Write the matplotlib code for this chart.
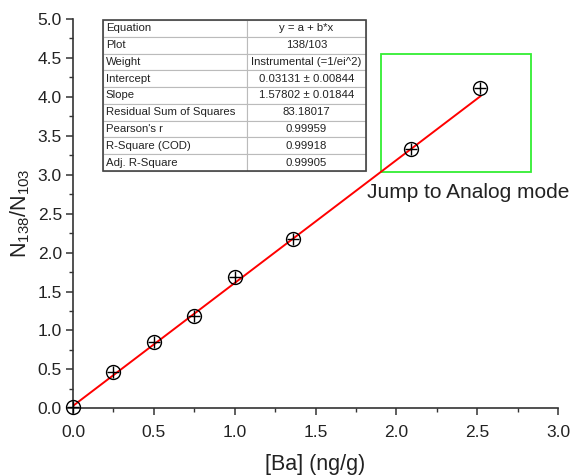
import matplotlib
matplotlib.use("Agg")
import matplotlib.pyplot as plt
import numpy as np
from matplotlib.patches import Rectangle

plt.rcParams['font.family'] = ['Liberation Sans', 'DejaVu Sans']
plt.rcParams['mathtext.fontset'] = 'custom'
plt.rcParams['mathtext.rm'] = 'Liberation Sans'
plt.rcParams['mathtext.it'] = 'Liberation Sans:italic'

# Data
ba = [0.0, 0.25, 0.5, 0.75, 1.0, 1.36, 2.09, 2.52]
ratio = [0.02, 0.47, 0.85, 1.19, 1.68, 2.17, 3.33, 4.11]
intercept = 0.03131
slope = 1.57802

table_labels = ["Equation", "Plot", "Weight", "Intercept", "Slope",
                "Residual Sum of Squares", "Pearson's r", "R-Square (COD)",
                "Adj. R-Square"]
table_values = ["y = a + b*x", "138/103", "Instrumental (=1/ei^2)",
                "0.03131 \u00b1 0.00844", "1.57802 \u00b1 0.01844",
                "83.18017", "0.99959", "0.99918", "0.99905"]

x_ticks = [0.0, 0.5, 1.0, 1.5, 2.0, 2.5, 3.0]
y_ticks = [0.0, 0.5, 1.0, 1.5, 2.0, 2.5, 3.0, 3.5, 4.0, 4.5, 5.0]

W, H = 571, 475
fig = plt.figure(figsize=(W / 100, H / 100), dpi=100)
ax = fig.add_axes([73 / W, 1 - 408.3 / H, (558 - 73) / W, (408.3 - 19) / H])

# fit line
xf = np.array([0.0, max(ba)])
ax.plot(xf, intercept + slope * xf, color='red', lw=1.4, zorder=3)

# markers
ax.plot(ba, ratio, linestyle='none', marker='o', ms=10, mfc='none', mec='black',
        mew=1.0, clip_on=False, zorder=4)
ax.plot(ba, ratio, linestyle='none', marker='+', ms=8.5, mec='black',
        mew=1.0, clip_on=False, zorder=4)

ax.set_xlim(0, 3.0)
ax.set_ylim(0, 5.0)
ax.set_xticks(x_ticks)
ax.set_yticks(y_ticks)
ax.set_xticklabels([f"{v:.1f}" for v in x_ticks])
ax.set_yticklabels([f"{v:.1f}" for v in y_ticks])
ax.set_xticks(np.arange(0.25, 3.0, 0.5), minor=True)
ax.set_yticks(np.arange(0.25, 5.0, 0.5), minor=True)

for s in ['top', 'right']:
    ax.spines[s].set_visible(False)
for s in ['left', 'bottom']:
    ax.spines[s].set_color('#333333')
    ax.spines[s].set_linewidth(1.2)
ax.tick_params(which='major', direction='out', length=5, width=1.1,
               colors='#333333', labelsize=12.5, labelcolor='#222222', pad=3)
ax.tick_params(axis='x', which='major', pad=7)
ax.tick_params(which='minor', direction='out', length=3, width=1.0, colors='#333333')

ax.set_xlabel("[Ba] (ng/g)", fontsize=15.5, color='#222222', labelpad=10)
ax.set_ylabel(r"N$_{\mathregular{138}}$/N$_{\mathregular{103}}$", fontsize=15.5,
              color='#222222', labelpad=4)

# green box
ax.add_patch(Rectangle((1.908, 3.04), 2.835 - 1.908, 4.55 - 3.04, fill=False,
                       edgecolor='#33ee33', lw=1.3, zorder=2))
ax.text(1.82, 2.70, "Jump to Analog mode", fontsize=15, color='#222222',
        ha='left', va='baseline')

# table
tx0 = (103 - 73) / 485
tw = (366 - 103) / 485
ty1 = (408.3 - 20) / 389.3
ty0 = (408.3 - 171) / 389.3
cells = [[a, b] for a, b in zip(table_labels, table_values)]
tbl = ax.table(cellText=cells, bbox=[tx0, ty0, tw, ty1 - ty0],
               colWidths=[0.546, 0.454], zorder=5)
tbl.auto_set_font_size(False)
for (r, c), cell in tbl.get_celld().items():
    cell.set_edgecolor('#bbbbbb')
    cell.set_linewidth(0.8)
    cell.get_text().set_fontsize(8.2)
    cell.get_text().set_color('#222222')
    if c == 0:
        cell.get_text().set_ha('left')
        cell.PAD = 0.02
    else:
        cell.get_text().set_ha('center')
ax.add_patch(Rectangle((tx0, ty0), tw, ty1 - ty0, transform=ax.transAxes,
                       fill=False, edgecolor='#444444', lw=1.2, zorder=6,
                       clip_on=False))

fig.savefig("out.png", dpi=100)
